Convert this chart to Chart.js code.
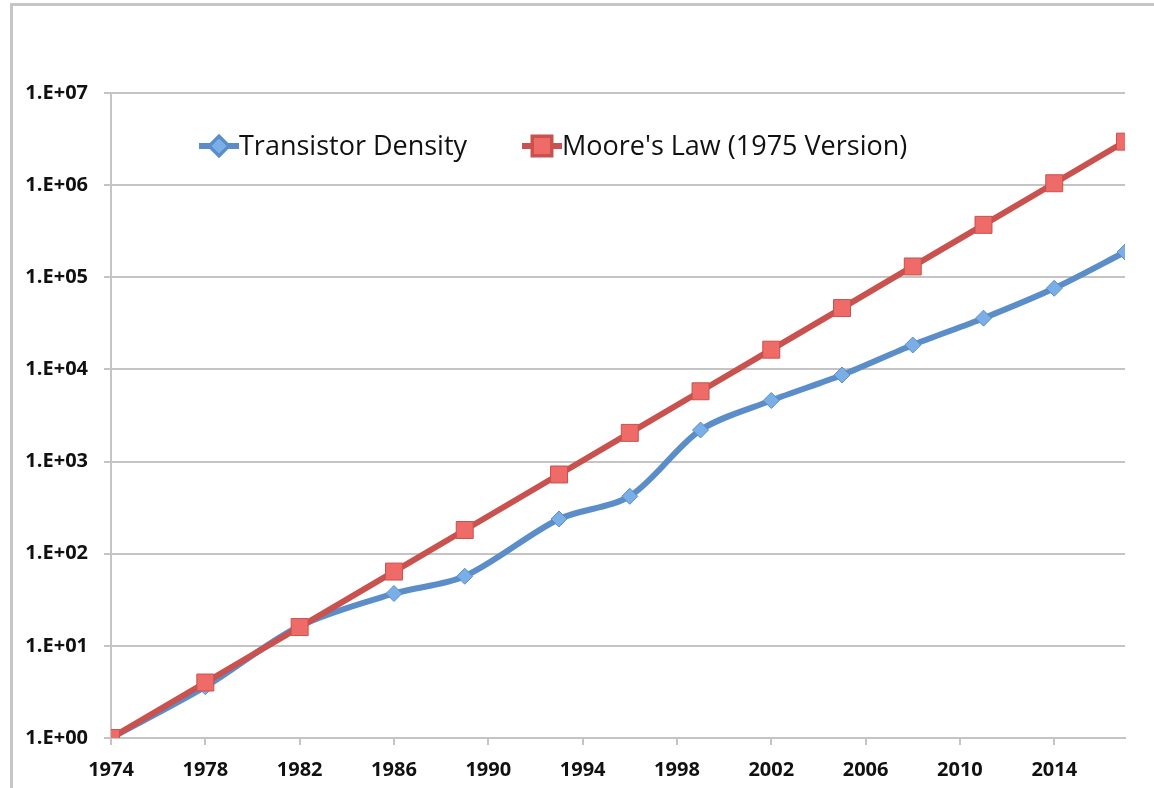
<!DOCTYPE html>
<html>
<head>
<meta charset="utf-8">
<script src="https://cdn.jsdelivr.net/npm/chart.js@4"></script>
<style>
  html, body { margin: 0; padding: 0; background: #fff; }
  #wrap { position: relative; width: 1154px; height: 788px; overflow: hidden; }
  #frame { position: absolute; left: 10px; top: 3px; width: 1200px; height: 900px;
           border-top: 3px solid #c6c6c6; border-left: 3px solid #c6c6c6; }
  #chart { position: absolute; left: 0; top: 0; }
</style>
</head>
<body>
<div id="wrap">
  <div id="frame"></div>
  <canvas id="chart" width="1154" height="788"></canvas>
</div>
<script>
// years of each point
const years = [1974, 1978, 1982, 1986, 1989, 1993, 1996, 1999, 2002, 2005, 2008, 2011, 2014, 2017];

// transistor density, relative to 1974
const transistorDensity = [1, 3.6, 16.4, 37, 57, 238, 420, 2200, 4600, 8700, 18400, 36000, 76000, 188000];

// Moore's law, 1975 version (doubling every two years)
const mooresLaw = [1, 4, 16, 64, 181, 724, 2048, 5793, 16384, 46341, 131072, 370728, 1048576, 2965821];

const xTicks = [1974, 1978, 1982, 1986, 1990, 1994, 1998, 2002, 2006, 2010, 2014];
const yTicks = [1, 10, 100, 1000, 10000, 100000, 1000000, 10000000];
const yTickLabels = ['1.E+00', '1.E+01', '1.E+02', '1.E+03', '1.E+04', '1.E+05', '1.E+06', '1.E+07'];

const gridGray = '#c4c4c4';

// legend drawn inside the plot, Excel style (line with marker through it)
const insideLegend = {
    id: 'insideLegend',
    afterDraw(chart) {
        const ctx = chart.ctx;
        const area = chart.chartArea;
        const y = area.top + 53;
        const items = [
            { ds: chart.data.datasets[1], x: area.left + 88 },
            { ds: chart.data.datasets[0], x: area.left + 411 }
        ];
        ctx.save();
        ctx.font = '400 27px "Open Sans"';
        ctx.textBaseline = 'middle';
        for (const it of items) {
            const ds = it.ds;
            ctx.strokeStyle = ds.borderColor;
            ctx.lineWidth = 6;
            ctx.beginPath();
            ctx.moveTo(it.x, y);
            ctx.lineTo(it.x + 40, y);
            ctx.stroke();
            Chart.helpers.drawPoint(ctx, {
                pointStyle: ds.pointStyle,
                radius: ds.pointRadius,
                borderWidth: 1
            }, it.x + 20, y);
            ctx.fillStyle = ds.pointBackgroundColor;
            ctx.strokeStyle = ds.pointBorderColor;
            ctx.lineWidth = 1;
            ctx.fill();
            ctx.stroke();
            ctx.fillStyle = '#111';
            ctx.fillText(ds.label, it.x + 40, y + 1);
        }
        ctx.restore();
    }
};

const ctx = document.getElementById('chart').getContext('2d');

new Chart(ctx, {
    type: 'line',
    data: {
        datasets: [
            {
                label: "Moore's Law (1975 Version)",
                data: years.map((yr, i) => ({ x: yr, y: mooresLaw[i] })),
                borderColor: '#c9514e',
                borderWidth: 6,
                pointStyle: 'rect',
                pointRadius: 12,
                pointBackgroundColor: '#ef6b67',
                pointBorderColor: '#c9514e',
                pointBorderWidth: 1,
                tension: 0,
                order: 0
            },
            {
                label: 'Transistor Density',
                data: years.map((yr, i) => ({ x: yr, y: transistorDensity[i] })),
                borderColor: '#5b8dc8',
                borderWidth: 6,
                pointStyle: 'rectRot',
                pointRadius: 8,
                pointBackgroundColor: '#79aee6',
                pointBorderColor: '#5b8dc8',
                pointBorderWidth: 1,
                tension: 0.3,
                order: 1
            }
        ]
    },
    options: {
        responsive: false,
        animation: false,
        layout: { padding: { top: 93, right: 29, left: 0, bottom: 0 } },
        plugins: {
            legend: { display: false },
            tooltip: { enabled: false }
        },
        scales: {
            x: {
                type: 'linear',
                min: 1974,
                max: 2017,
                afterBuildTicks(scale) {
                    scale.ticks = xTicks.map(v => ({ value: v }));
                },
                afterFit(scale) { scale.height = 50; },
                grid: {
                    drawOnChartArea: false,
                    drawTicks: true,
                    tickLength: 7,
                    color: gridGray,
                    lineWidth: 2
                },
                border: { color: gridGray, width: 2 },
                ticks: {
                    autoSkip: false,
                    maxRotation: 0,
                    padding: 13,
                    color: '#111',
                    font: { family: 'Open Sans', size: 20, weight: '700' },
                    callback: v => String(v)
                }
            },
            y: {
                type: 'logarithmic',
                min: 1,
                max: 10000000,
                afterBuildTicks(scale) {
                    scale.ticks = yTicks.map(v => ({ value: v }));
                },
                afterFit(scale) { scale.width = 111; },
                grid: {
                    color: gridGray,
                    lineWidth: 2,
                    tickLength: 7
                },
                border: { color: gridGray, width: 2 },
                ticks: {
                    padding: 16,
                    color: '#111',
                    font: { family: 'Open Sans', size: 20, weight: '700' },
                    callback: (v) => {
                        const i = yTicks.indexOf(v);
                        return i >= 0 ? yTickLabels[i] : '';
                    }
                }
            }
        }
    },
    plugins: [insideLegend]
});
</script>
</body>
</html>
